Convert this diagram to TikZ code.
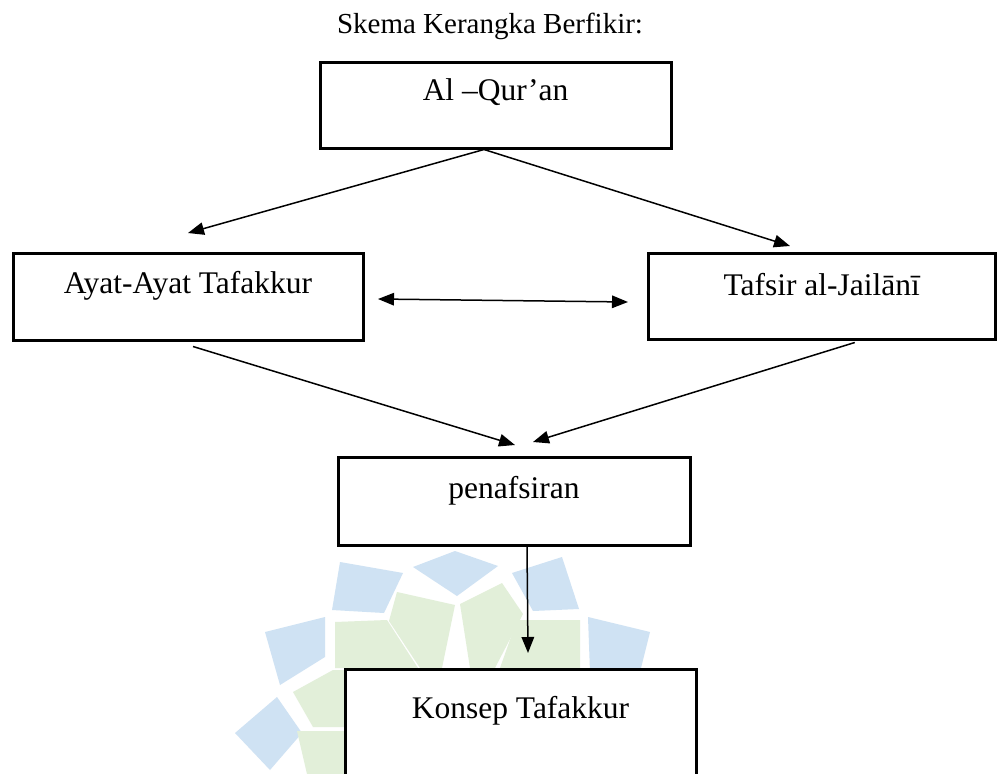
\documentclass[tikz,border=0pt]{standalone}
\usepackage{fontspec}
\setmainfont{Liberation Serif}
\usetikzlibrary{arrows.meta,calc}
\definecolor{wmblue}{RGB}{207,226,243}
\definecolor{wmgreen}{RGB}{226,239,217}
\begin{document}
\begin{tikzpicture}[x=1pt,y=-1pt,
  box/.style={draw=black, line width=3pt, fill=white, inner sep=0pt, font=\fontsize{31.5}{36}\selectfont},
  conn/.style={line width=1.5pt, -{Triangle[length=16pt,width=12.5pt]}},
  dconn/.style={line width=1.5pt, {Triangle[length=16pt,width=12.5pt]}-{Triangle[length=16pt,width=12.5pt]}},
  wb/.style={fill=wmblue}, wg/.style={fill=wmgreen}]
\clip (0,0) rectangle (997,774);
\fill[white] (0,0) rectangle (997,774);
% watermark
\fill[wb] (235,733) -- (277,697) -- (302,733) -- (270,770) -- cycle;
\fill[wb] (265,632) -- (325,617) -- (325,657) -- (280,685) -- cycle;
\fill[wb] (340,562) -- (403,573) -- (384,613) -- (332,610) -- cycle;
\fill[wb] (413,567) -- (455,551) -- (498,566) -- (457,596) -- cycle;
\fill[wb] (512,573) -- (562,557) -- (579,609) -- (533,611) -- cycle;
\fill[wb] (588,617) -- (650,632) -- (640,672) -- (590,672) -- cycle;
\fill[wg] (335,622) -- (387,620) -- (418,668) -- (335,668) -- cycle;
\fill[wg] (397,592) -- (455,605) -- (442,668) -- (420,668) -- (389,621) -- cycle;
\fill[wg] (460,604) -- (502,583) -- (523,614) -- (495,668) -- (470,668) -- cycle;
\fill[wg] (517,620) -- (580,620) -- (580,668) -- (500,668) -- cycle;
\fill[wg] (293,692) -- (333,670) -- (345,670) -- (345,727) -- (313,727) -- cycle;
\fill[wg] (297,731) -- (345,731) -- (345,774) -- (307,774) -- cycle;
% title
\node[anchor=base, inner sep=0pt, font=\fontsize{29}{34}\selectfont] (title) at (490,33) {Skema Kerangka Berfikir:};
% boxes
\node[box, minimum width=351pt, minimum height=86pt, text height=38pt, text depth=48pt] (quran) at (495.5,105) {Al –Qur’an};
\node[box, minimum width=350pt, minimum height=87pt, text height=40pt, text depth=47pt] (ayat) at (188,296.5) {Ayat-Ayat Tafakkur};
\node[box, minimum width=347.5pt, minimum height=86pt, text height=42pt, text depth=44pt] (tafsir) at (821.75,296) {Tafsir al-Jailānī};
\node[box, minimum width=352pt, minimum height=88pt, text height=41pt, text depth=47pt] (pen) at (514,501) {penafsiran};
\node[box, minimum width=351pt, minimum height=140pt, text height=49pt, text depth=91pt] (konsep) at (520.5,739) {Konsep Tafakkur};
% arrow tips
\coordinate (tipA) at (188,233);
\coordinate (tipT) at (790,246);
\coordinate (dl) at (378,299);
\coordinate (dr) at (628,302);
\coordinate (tipP1) at (515,445);
\coordinate (tipP2) at (533,442);
\coordinate (tipK) at (528,653);
% connectors
\draw[conn] ([xshift=-11.5pt]quran.south) -- (tipA);
\draw[conn] ([xshift=-11.5pt]quran.south) -- (tipT);
\draw[dconn] (dl) -- (dr);
\draw[conn] ([xshift=5pt,yshift=-5pt]ayat.south) -- (tipP1);
\draw[conn] ([xshift=33pt,yshift=-2pt]tafsir.south) -- (tipP2);
\draw[conn] ([xshift=13pt]pen.south) -- (tipK);
\end{tikzpicture}
\end{document}
